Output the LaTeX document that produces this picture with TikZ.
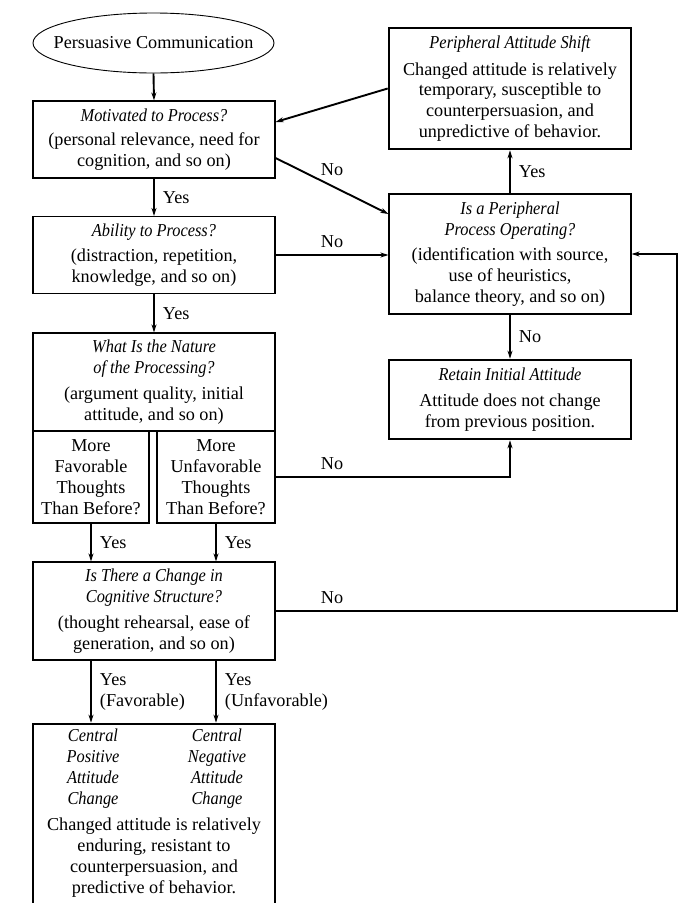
\documentclass[tikz,border=0pt]{standalone}
\usepackage{fontspec}
\setmainfont{Liberation Serif}
\usepackage{graphicx}
\usetikzlibrary{shapes.geometric,arrows.meta,calc}
\newcommand{\ti}[1]{\scalebox{0.9}[1]{\itshape #1}}
\begin{document}
\begin{tikzpicture}[x=1pt,y=-1pt,
  every node/.style={font=\fontsize{18.2}{20.8}\selectfont, inner sep=0pt},
  qbox/.style={draw, line width=1.1pt, rectangle, align=center},
  obox/.style={draw, line width=2.6pt, rectangle, align=center},
  txt/.style={align=center},
  conn/.style={line width=1.9pt, -{Stealth[length=8pt,width=5pt]}},
  lbl/.style={anchor=west}]
\useasboundingbox (0,0) rectangle (696,903);
\clip (0,0) rectangle (696,903);
\fill[white] (0,0) rectangle (696,903);

% left column
\node[draw, ellipse, line width=0.9pt, minimum width=241pt, minimum height=60pt] (pc) at (153.5,43) {};
\node[txt] (pctext) at (pc.center) {Persuasive Communication};
\node[qbox, minimum width=242pt, minimum height=77pt] (mot) at (154,139.5)
  {\ti{Motivated to Process?}\\[4pt](personal relevance, need for\\cognition, and so on)};
\node[qbox, minimum width=242pt, minimum height=77pt] (abil) at (154,255)
  {\ti{Ability to Process?}\\[4pt](distraction, repetition,\\knowledge, and so on)};
\node[qbox, minimum width=242pt, minimum height=98pt] (nat) at (154,382)
  {\ti{What Is the Nature}\\\ti{of the Processing?}\\[5pt](argument quality, initial\\attitude, and so on)};
\node[qbox, minimum width=116pt, minimum height=92pt] (fav) at (91,477)
  {More\\Favorable\\Thoughts\\Than Before?};
\node[qbox, minimum width=118pt, minimum height=92pt] (unfav) at (216,477)
  {More\\Unfavorable\\Thoughts\\Than Before?};
\node[qbox, minimum width=242pt, minimum height=98pt] (chg) at (154,611)
  {\ti{Is There a Change in}\\\ti{Cognitive Structure?}\\[5pt](thought rehearsal, ease of\\generation, and so on)};
\node[obox, minimum width=242pt, minimum height=200pt] (cen) at (154,824) {};
\node[txt] (cpos) at (93,768.5) {\ti{Central}\\\ti{Positive}\\\ti{Attitude}\\\ti{Change}};
\node[txt] (cneg) at (217,768.5) {\ti{Central}\\\ti{Negative}\\\ti{Attitude}\\\ti{Change}};
\node[txt] (cdesc) at (154,857.5) {Changed attitude is relatively\\enduring, resistant to\\counterpersuasion, and\\predictive of behavior.};

% right column
\node[obox, minimum width=242pt, minimum height=121pt] (pas) at (510,88.5)
  {\ti{Peripheral Attitude Shift}\\[6pt]Changed attitude is relatively\\temporary, susceptible to\\counterpersuasion, and\\unpredictive of behavior.};
\node[qbox, minimum width=242pt, minimum height=120pt] (ppo) at (510,254)
  {\ti{Is a Peripheral}\\\ti{Process Operating?}\\[5pt](identification with source,\\use of heuristics,\\balance theory, and so on)};
\node[obox, minimum width=242pt, minimum height=79pt] (ret) at (510,399.5)
  {\ti{Retain Initial Attitude}\\[5pt]Attitude does not change\\from previous position.};

\coordinate (rt) at (677,611);

% connectors
\draw[conn] (pc.south) -- (mot.north);
\draw[conn] (mot.south) -- (abil.north) node[lbl, pos=0.5, xshift=8pt] {Yes};
\draw[conn] (abil.south) -- (nat.north) node[lbl, pos=0.5, xshift=8pt] {Yes};
\draw[conn] (fav.south) -- (chg.north -| fav.south) node[lbl, pos=0.5, xshift=8pt] {Yes};
\draw[conn] (unfav.south) -- (chg.north -| unfav.south) node[lbl, pos=0.5, xshift=8pt] {Yes};
\draw[conn] (chg.south -| fav.south) -- (cen.north -| fav.south)
  node[anchor=west, align=left, pos=0.5, xshift=8pt] {Yes\\(Favorable)};
\draw[conn] (chg.south -| unfav.south) -- (cen.north -| unfav.south)
  node[anchor=west, align=left, pos=0.5, xshift=8pt] {Yes\\(Unfavorable)};

\draw[conn] (pas.west) -- ([yshift=17.5pt]mot.east);
\draw[conn] ([yshift=-18.5pt]mot.east) -- ([yshift=40pt]ppo.west);
\node (no1) at (332,170) {No};
\draw[conn] (abil.east) -- (ppo.west |- abil.east);
\node (no2) at (332,242) {No};
\draw[conn] (ppo.north) -- (pas.south) node[lbl, pos=0.5, xshift=8pt] {Yes};
\draw[conn] (ppo.south) -- (ret.north) node[lbl, pos=0.5, xshift=8pt] {No};
\draw[conn] (unfav.east) -- (ret.south |- unfav.east) -- (ret.south);
\node (no3) at (332,464) {No};
\draw[conn] (chg.east) -- (rt) -- (rt |- ppo.east) -- (ppo.east);
\node (no4) at (332,598) {No};
\end{tikzpicture}
\end{document}
